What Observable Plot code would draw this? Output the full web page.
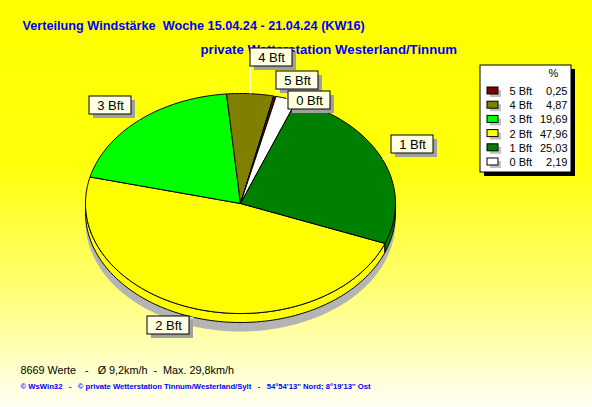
<!DOCTYPE html>
<html>
<head>
<meta charset="utf-8">
<script src="https://cdn.jsdelivr.net/npm/d3@7"></script>
<script src="https://cdn.jsdelivr.net/npm/@observablehq/plot@0.6"></script>
<style>
  html, body { margin: 0; padding: 0; }
  body { width: 592px; height: 407px; overflow: hidden;
    background: linear-gradient(to bottom, #ffff00 0%, #ffff0a 40%, #ffff70 70%, #fffff6 100%); }
  #chart svg { display: block; background: transparent; }
</style>
</head>
<body>
<div id="chart"></div>
<script>
// ---------- data ----------
const categories = ["5 Bft", "4 Bft", "3 Bft", "2 Bft", "1 Bft", "0 Bft"];
const percents   = [0.25, 4.87, 19.69, 47.96, 25.03, 2.19];
const colors     = ["#800000", "#808000", "#00ff00", "#ffff00", "#008000", "#ffffff"];
const pieOrder   = ["2 Bft", "3 Bft", "4 Bft", "5 Bft", "0 Bft", "1 Bft"]; // clockwise
const titleLine1 = "Verteilung Windstärke  Woche 15.04.24 - 21.04.24 (KW16)";
const titleLine2 = "private Wetterstation Westerland/Tinnum";
const legendHeader = "%";
const footerLine1 = "8669 Werte   -   Ø 9,2km/h  -  Max. 29,8km/h";
const footerLine2 = "© WsWin32   -   © private Wetterstation Tinnum/Westerland/Sylt   -   54°54'13'' Nord; 8°19'13'' Ost";

// ---------- layout ----------
const W = 592, H = 407;
const CX = 240, CY = 203, RX = 155, RY = 110, DEPTH = 9, START = 21.3;
const labelBoxes = { // box centres
  "4 Bft": [271, 57], "5 Bft": [297, 80], "0 Bft": [309, 100],
  "3 Bft": [110, 105], "1 Bft": [412, 144], "2 Bft": [168, 325]
};
const BOXW = 42, BOXH = 18;
const LEG = {x1: 480, x2: 571, y1: 65, y2: 172, row0: 91, step: 14.2};

const rad = a => a * Math.PI / 180;
const pt = (a, dy = 0) => ({x: CX + RX * Math.cos(rad(a)), y: CY + RY * Math.sin(rad(a)) + dy});
const arc = (a0, a1, dy = 0) => {
  const n = Math.max(2, Math.ceil(Math.abs(a1 - a0)));
  return d3.range(n + 1).map(i => pt(a0 + (a1 - a0) * i / n, dy));
};

const info = Object.fromEntries(categories.map((c, i) => [c, {pct: percents[i], color: colors[i]}]));
let acc = START;
const slices = pieOrder.map(k => {
  const a0 = acc, a1 = acc + info[k].pct * 3.6;
  acc = a1;
  return {key: k, a0, a1, mid: (a0 + a1) / 2, color: info[k].color};
});

// top faces
const topPts = [];
for (const s of slices) {
  const pts = [{x: CX, y: CY}, ...arc(s.a0, s.a1), {x: CX, y: CY}];
  pts.forEach(p => topPts.push({...p, key: s.key, fill: s.color}));
}
// side faces (front half only)
const sidePts = [];
for (const s of slices) {
  for (const [v0, v1] of [[0, 180], [360, 540]]) {
    const lo = Math.max(s.a0, v0), hi = Math.min(s.a1, v1);
    if (hi > lo) {
      const top = arc(lo, hi), bot = arc(hi, lo, DEPTH);
      const pts = [...top, ...bot, top[0]];
      pts.forEach(p => sidePts.push({...p, key: s.key + v0, fill: s.color}));
    }
  }
}
// shadow
const shadowPts = arc(0, 360, DEPTH + 9).map(p => ({x: p.x, y: p.y}));

// labels + leaders
const labels = slices.map(s => {
  const [bx, by] = labelBoxes[s.key];
  const edge = pt(s.mid, Math.sin(rad(s.mid)) > 0 ? DEPTH : 0);
  const ex = Math.max(bx - BOXW / 2, Math.min(bx + BOXW / 2, edge.x));
  const ey = Math.max(by - BOXH / 2, Math.min(by + BOXH / 2, edge.y));
  return {key: s.key, bx, by, x1: edge.x, y1: edge.y, x2: ex, y2: ey};
});

// legend rows
const legendRows = categories.map((c, i) => ({
  key: c, color: colors[i], y: LEG.row0 + i * LEG.step,
  value: percents[i].toFixed(2).replace(".", ",")
}));

const font = "Liberation Sans, Arial, sans-serif";

const plot = Plot.plot({
  width: W, height: H,
  margin: 0,
  x: {domain: [0, W], range: [0, W], axis: null},
  y: {domain: [0, H], range: [0, H], axis: null},
  color: {type: "identity"},
  style: {background: "transparent", fontFamily: font},
  marks: [
    // title
    Plot.text([titleLine1], {x: 22, y: 29.5, text: d => d, textAnchor: "start", lineAnchor: "bottom",
      fill: "#0000ff", fontWeight: "bold", fontSize: 12.7}),
    Plot.text([titleLine2], {x: 200, y: 53, text: d => d, textAnchor: "start", lineAnchor: "bottom",
      fill: "#0000ff", fontWeight: "bold", fontSize: 13.2}),
    // shadow
    Plot.line(shadowPts, {x: "x", y: "y", fill: "#b4b4b4", stroke: "none"}),
    // sides
    Plot.line(sidePts, {x: "x", y: "y", z: "key", fill: "fill", stroke: "black", strokeWidth: 1}),
    // tops
    Plot.line(topPts, {x: "x", y: "y", z: "key", fill: "fill", stroke: "black", strokeWidth: 1}),
    // leaders
    Plot.link(labels, {x1: "x1", y1: "y1", x2: "x2", y2: "y2", stroke: "white", strokeWidth: 1}),
    // label boxes
    Plot.rect(labels, {x1: d => d.bx - BOXW / 2 + 4, x2: d => d.bx + BOXW / 2 + 4,
      y1: d => d.by - BOXH / 2 + 4, y2: d => d.by + BOXH / 2 + 4, fill: "#a0a0a0"}),
    Plot.rect(labels, {x1: d => d.bx - BOXW / 2, x2: d => d.bx + BOXW / 2,
      y1: d => d.by - BOXH / 2, y2: d => d.by + BOXH / 2, fill: "#ffffe1", stroke: "black", strokeWidth: 1}),
    Plot.text(labels, {x: "bx", y: "by", text: "key", fill: "black", fontSize: 13, dy: 0}),
    // legend
    Plot.rect([0], {x1: LEG.x1 + 4, x2: LEG.x2 + 4, y1: LEG.y1 + 4, y2: LEG.y2 + 4, fill: "black"}),
    Plot.rect([0], {x1: LEG.x1, x2: LEG.x2, y1: LEG.y1, y2: LEG.y2, fill: "white", stroke: "black"}),
    Plot.text([legendHeader], {x: 553, y: 73, text: d => d, fontSize: 11, fill: "black"}),
    Plot.rect(legendRows, {x1: 490, x2: 501, y1: d => d.y - 1, y2: d => d.y + 6, fill: "#c0c0c0"}),
    Plot.rect(legendRows, {x1: 487, x2: 498, y1: d => d.y - 4, y2: d => d.y + 3, fill: "color", stroke: "black"}),
    Plot.text(legendRows, {x: 509, y: "y", text: "key", textAnchor: "start", fontSize: 11, fill: "black"}),
    Plot.text(legendRows, {x: 567, y: "y", text: "value", textAnchor: "end", fontSize: 11, fill: "black"}),
    // footer
    Plot.text([footerLine1], {x: 20, y: 373, text: d => d, textAnchor: "start", lineAnchor: "bottom",
      fill: "black", fontSize: 10.8}),
    Plot.text([footerLine2], {x: 20, y: 388, text: d => d, textAnchor: "start", lineAnchor: "bottom",
      fill: "#0000ff", fontSize: 7.7, fontWeight: "bold"})
  ]
});
document.getElementById("chart").appendChild(plot);
</script>
</body>
</html>
